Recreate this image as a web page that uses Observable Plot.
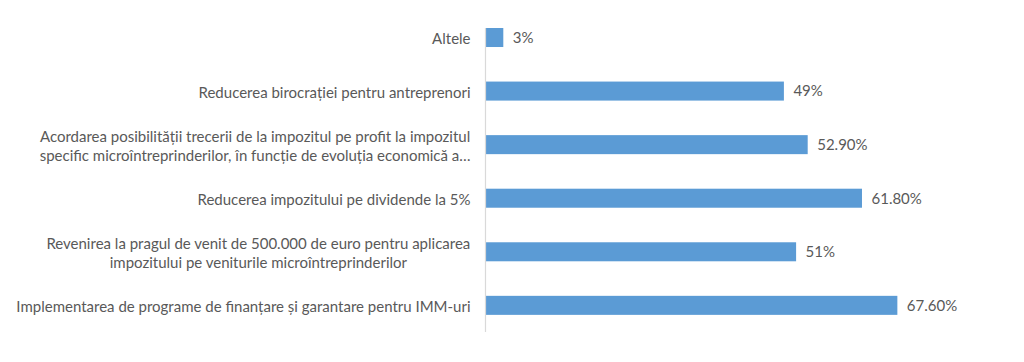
<!DOCTYPE html>
<html>
<head>
<meta charset="utf-8">
<script src="https://cdn.jsdelivr.net/npm/d3@7"></script>
<script src="https://cdn.jsdelivr.net/npm/@observablehq/plot@0.6"></script>
<style>
  html, body { margin: 0; padding: 0; background: #ffffff; }
  #chart svg { display: block; }
</style>
</head>
<body>
<div id="chart"></div>
<script>
const categories = [
  "Altele",
  "Reducerea birocrației pentru antreprenori",
  "Acordarea posibilității trecerii de la impozitul pe profit la impozitul\nspecific microîntreprinderilor, în funcție de evoluția economică a…",
  "Reducerea impozitului pe dividende la 5%",
  "Revenirea la pragul de venit de 500.000 de euro pentru aplicarea\nimpozitului pe veniturile microîntreprinderilor",
  "Implementarea de programe de finanțare și garantare pentru IMM-uri"
];
const values = [3, 49, 52.9, 61.8, 51, 67.6];
const valueLabels = ["3%", "49%", "52.90%", "61.80%", "51%", "67.60%"];

const data = categories.map((c, i) => ({category: c, value: values[i], label: valueLabels[i]}));

const FONT_FAMILY = "Lato, 'Open Sans', sans-serif";
const FONT_SIZE = 15;
const ctx = document.createElement("canvas").getContext("2d");
ctx.font = `${FONT_SIZE}px Lato`;
const blockWidth = c => Math.max(...c.split("\n").map(l => ctx.measureText(l).width));

const chart = Plot.plot({
  width: 1024,
  height: 362,
  marginLeft: 485,
  marginRight: 51,
  marginTop: 28,
  marginBottom: 30,
  style: {fontFamily: FONT_FAMILY, fontSize: FONT_SIZE + "px", background: "#ffffff"},
  x: {domain: [0, 80], axis: null},
  y: {domain: categories, axis: null, paddingInner: 0.645, paddingOuter: 0.16, align: 0, round: false},
  marks: [
    Plot.barX(data, {y: "category", x: "value", fill: "#5B9BD5"}),
    Plot.ruleX([0], {stroke: "#d9d9d9", strokeWidth: 1.2}),
    Plot.text(data, {
      y: "category", x: "value", text: "label",
      textAnchor: "start", dx: 9, fill: "#595959", fontSize: FONT_SIZE
    }),
    ...data.map(d => Plot.text([d], {
      y: "category", x: () => 0, text: "category",
      textAnchor: "middle", dx: -(15 + blockWidth(d.category) / 2),
      fill: "#595959", fontSize: FONT_SIZE, lineHeight: 1.27
    }))
  ]
});
document.getElementById("chart").append(chart);
</script>
</body>
</html>
